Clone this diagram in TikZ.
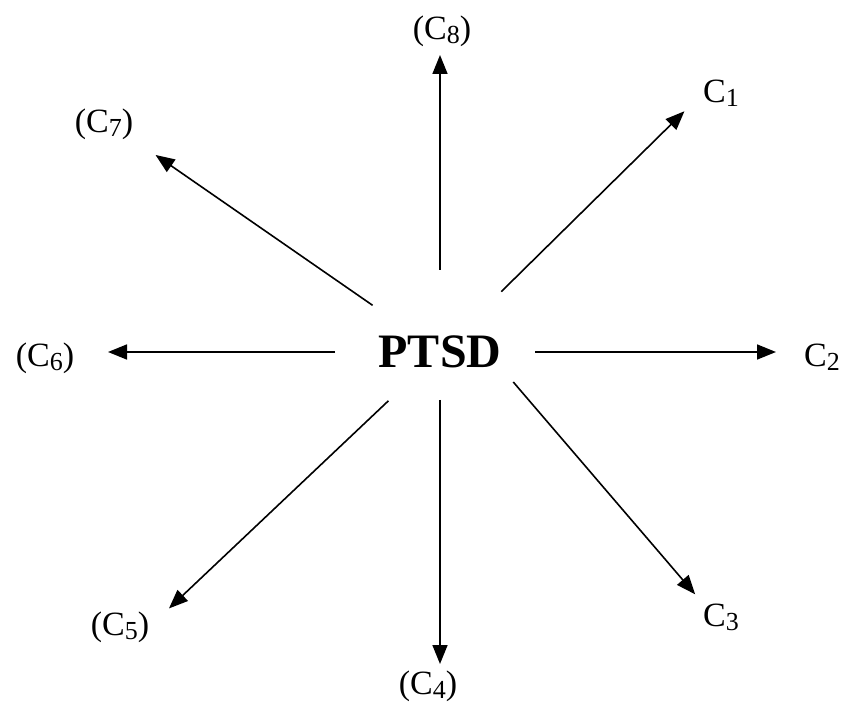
\documentclass[tikz,border=0pt]{standalone}
\usepackage{fontspec}
\setmainfont{Liberation Serif}
\usepackage{tikz}
\usetikzlibrary{arrows.meta}
\newcommand{\csub}[1]{{\fontsize{26}{28}\selectfont\raisebox{-4pt}{#1}}}
\tikzset{
  hub/.style={
    font=\fontsize{48}{52}\selectfont\bfseries,
    inner sep=0pt
  },
  cause/.style={
    font=\fontsize{34}{38}\selectfont,
    inner sep=0pt
  },
  arrow/.style={-{Triangle[length=19pt,width=15pt]}, line width=1.6pt, draw=black}
}
\begin{document}
\begin{tikzpicture}[x=1pt,y=-1pt]
\useasboundingbox (0,0) rectangle (844,708);

\node[hub] (ptsd) at (440,352) {PTSD};

\node[cause] (c1) at (721,93) {C\csub{1}};
\node[cause] (c2) at (822,357) {C\csub{2}};
\node[cause] (c3) at (721,617) {C\csub{3}};
\node[cause] (c4) at (428,686) {(C\csub{4})};
\node[cause] (c5) at (120,627) {(C\csub{5})};
\node[cause] (c6) at (45,358) {(C\csub{6})};
\node[cause] (c7) at (104,124) {(C\csub{7})};
\node[cause] (c8) at (442,31) {(C\csub{8})};

\draw[arrow, shorten <=86pt, shorten >=26pt] (ptsd.center) -- (c1.west);
\draw[arrow, shorten <=95pt, shorten >=46pt] (ptsd.center) -- (ptsd.center -| c2.center);
\draw[arrow, shorten <=18pt, shorten >=12pt] (ptsd.south east) -- (c3.north west);
\draw[arrow, shorten <=48pt, shorten >=22pt] (ptsd.center) -- (ptsd.center |- c4.center);
\draw[arrow, shorten <=71pt, shorten >=27pt] (ptsd.center) -- (c5.east);
\draw[arrow, shorten <=105pt, shorten >=63pt] (ptsd.center) -- (ptsd.center -| c6.center);
\draw[arrow, shorten <=82pt, shorten >=27pt] (ptsd.center) -- (c7.south east);
\draw[arrow, shorten <=82pt, shorten >=24pt] (ptsd.center) -- (ptsd.center |- c8.center);

\end{tikzpicture}
\end{document}
